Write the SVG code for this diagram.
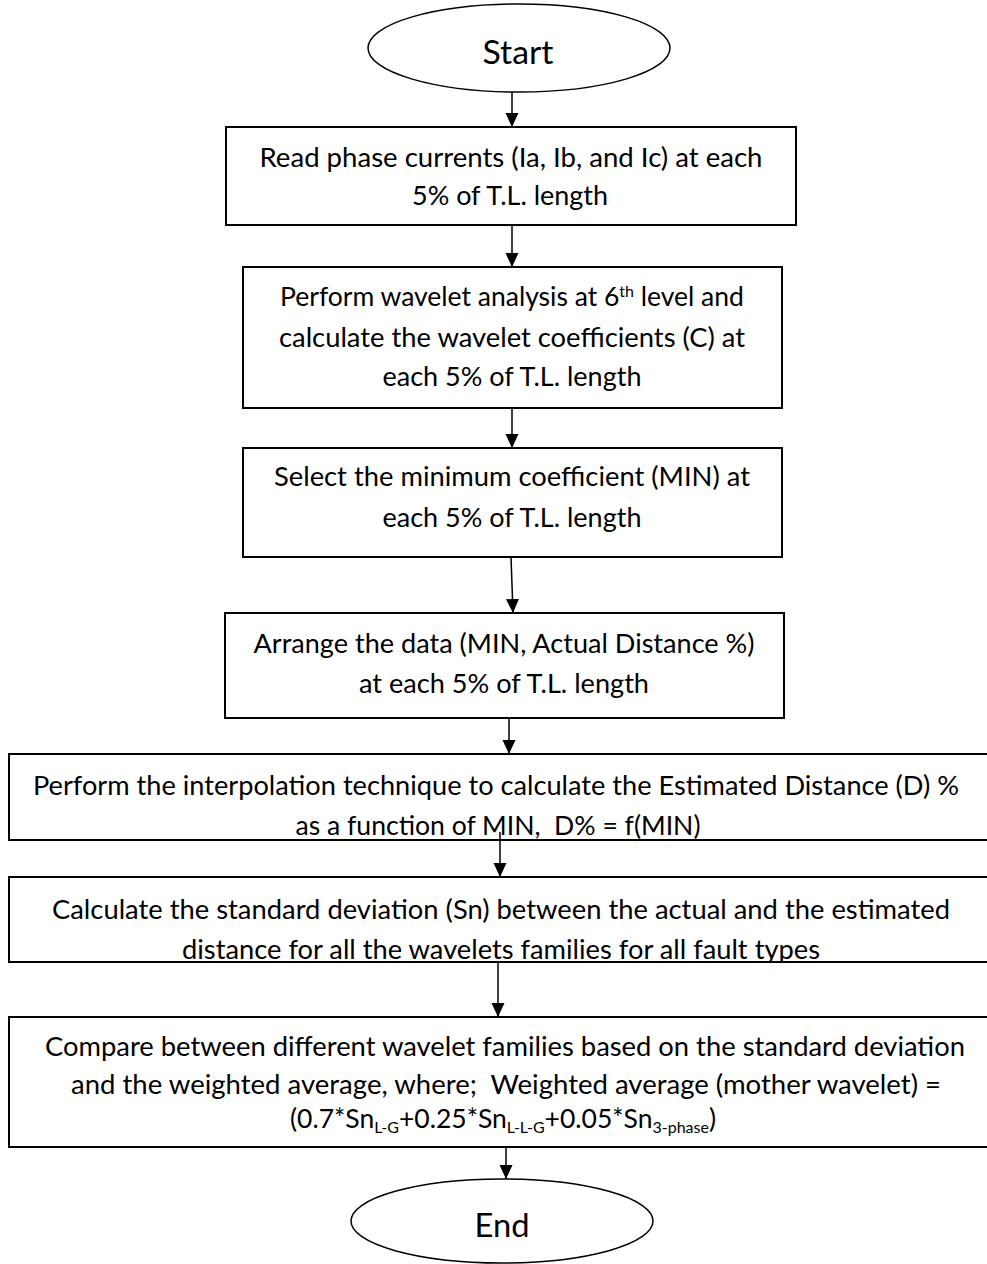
<svg xmlns="http://www.w3.org/2000/svg" width="987" height="1264" viewBox="0 0 987 1264">
<style>
.box{fill:#fff;stroke:#000;stroke-width:2}
.term{fill:#fff;stroke:#000;stroke-width:1.5}
.t{font-family:Lato,"Liberation Sans",sans-serif;font-size:26.5px;fill:#000;text-anchor:middle}
.big{font-family:Lato,"Liberation Sans",sans-serif;font-size:32.5px;fill:#000;text-anchor:middle}
.conn{stroke:#000;stroke-width:1.5;fill:none;marker-end:url(#ah)}
</style>
<defs>
<marker id="ah" markerUnits="userSpaceOnUse" markerWidth="13" markerHeight="14" refX="14" refY="6.5" orient="auto"><path d="M0,0 L14,6.5 L0,13 z" fill="#000"/></marker>
<clipPath id="c5"><rect x="10" y="755" width="980" height="84"/></clipPath>
<clipPath id="c6"><rect x="10" y="878" width="980" height="83"/></clipPath>
</defs>
<rect width="987" height="1264" fill="#fff"/>
<g id="start">
<ellipse class="term" cx="519" cy="48" rx="151" ry="44"/>
<text class="big" x="518" y="64" textLength="71" lengthAdjust="spacingAndGlyphs">Start</text>
</g>
<g id="n1">
<rect class="box" x="226" y="127" width="570" height="98"/>
<text class="t" x="511" y="167" textLength="503" lengthAdjust="spacingAndGlyphs">Read phase currents (Ia, Ib, and Ic) at each</text>
<text class="t" x="510" y="205" textLength="196" lengthAdjust="spacingAndGlyphs">5% of T.L. length</text>
</g>
<g id="n2">
<rect class="box" x="243" y="267" width="539" height="141"/>
<text class="t" x="512" y="306">Perform wavelet analysis at 6<tspan font-size="16" baseline-shift="super">th</tspan> level and</text>
<text class="t" x="512" y="347" textLength="466" lengthAdjust="spacingAndGlyphs">calculate the wavelet coefficients (C) at</text>
<text class="t" x="512" y="386" textLength="259" lengthAdjust="spacingAndGlyphs">each 5% of T.L. length</text>
</g>
<g id="n3">
<rect class="box" x="243" y="448" width="539" height="109"/>
<text class="t" x="512" y="486" textLength="476" lengthAdjust="spacingAndGlyphs">Select the minimum coefficient (MIN) at</text>
<text class="t" x="512" y="527" textLength="259" lengthAdjust="spacingAndGlyphs">each 5% of T.L. length</text>
</g>
<g id="n4">
<rect class="box" x="225" y="613" width="559" height="105"/>
<text class="t" x="504" y="653" textLength="501" lengthAdjust="spacingAndGlyphs">Arrange the data (MIN, Actual Distance %)</text>
<text class="t" x="504" y="693" textLength="290" lengthAdjust="spacingAndGlyphs">at each 5% of T.L. length</text>
</g>
<g id="n5">
<rect class="box" x="9" y="754" width="990" height="86"/>
<g clip-path="url(#c5)">
<text class="t" x="496" y="795" textLength="926" lengthAdjust="spacingAndGlyphs">Perform the interpolation technique to calculate the Estimated Distance (D) %</text>
<text class="t" x="498" y="835" textLength="405" lengthAdjust="spacingAndGlyphs" xml:space="preserve">as a function of MIN,  D% = f(MIN)</text>
</g>
</g>
<g id="n6">
<rect class="box" x="9" y="877" width="990" height="85"/>
<g clip-path="url(#c6)">
<text class="t" x="501" y="919" textLength="898" lengthAdjust="spacingAndGlyphs">Calculate the standard deviation (Sn) between the actual and the estimated</text>
<text class="t" x="501" y="959" textLength="638" lengthAdjust="spacingAndGlyphs">distance for all the wavelets families for all fault types</text>
</g>
</g>
<g id="n7">
<rect class="box" x="9" y="1017" width="990" height="130"/>
<text class="t" x="505" y="1056" textLength="920" lengthAdjust="spacingAndGlyphs">Compare between different wavelet families based on the standard deviation</text>
<text class="t" x="506" y="1094" textLength="870" lengthAdjust="spacingAndGlyphs" xml:space="preserve">and the weighted average, where;  Weighted average (mother wavelet) =</text>
<text class="t" x="503" y="1128">(0.7*Sn<tspan font-size="16" dy="5">L-G</tspan><tspan dy="-5">+0.25*Sn</tspan><tspan font-size="16" dy="5">L-L-G</tspan><tspan dy="-5">+0.05*Sn</tspan><tspan font-size="16" dy="5">3-phase</tspan><tspan dy="-5">)</tspan></text>
</g>
<g id="end">
<ellipse class="term" cx="502" cy="1221" rx="151" ry="42"/>
<text class="big" x="502" y="1237" textLength="55" lengthAdjust="spacingAndGlyphs">End</text>
</g>
<g id="connectors">
<line class="conn" x1="512" y1="92" x2="512" y2="127"/>
<line class="conn" x1="512" y1="225" x2="512" y2="267"/>
<line class="conn" x1="512" y1="408" x2="512" y2="448"/>
<line class="conn" x1="511" y1="557" x2="513" y2="613"/>
<line class="conn" x1="509" y1="718" x2="509" y2="754"/>
<line class="conn" x1="500" y1="832" x2="500" y2="877"/>
<line class="conn" x1="498" y1="962" x2="498" y2="1017"/>
<line class="conn" x1="506" y1="1147" x2="506" y2="1179"/>
</g>
</svg>
